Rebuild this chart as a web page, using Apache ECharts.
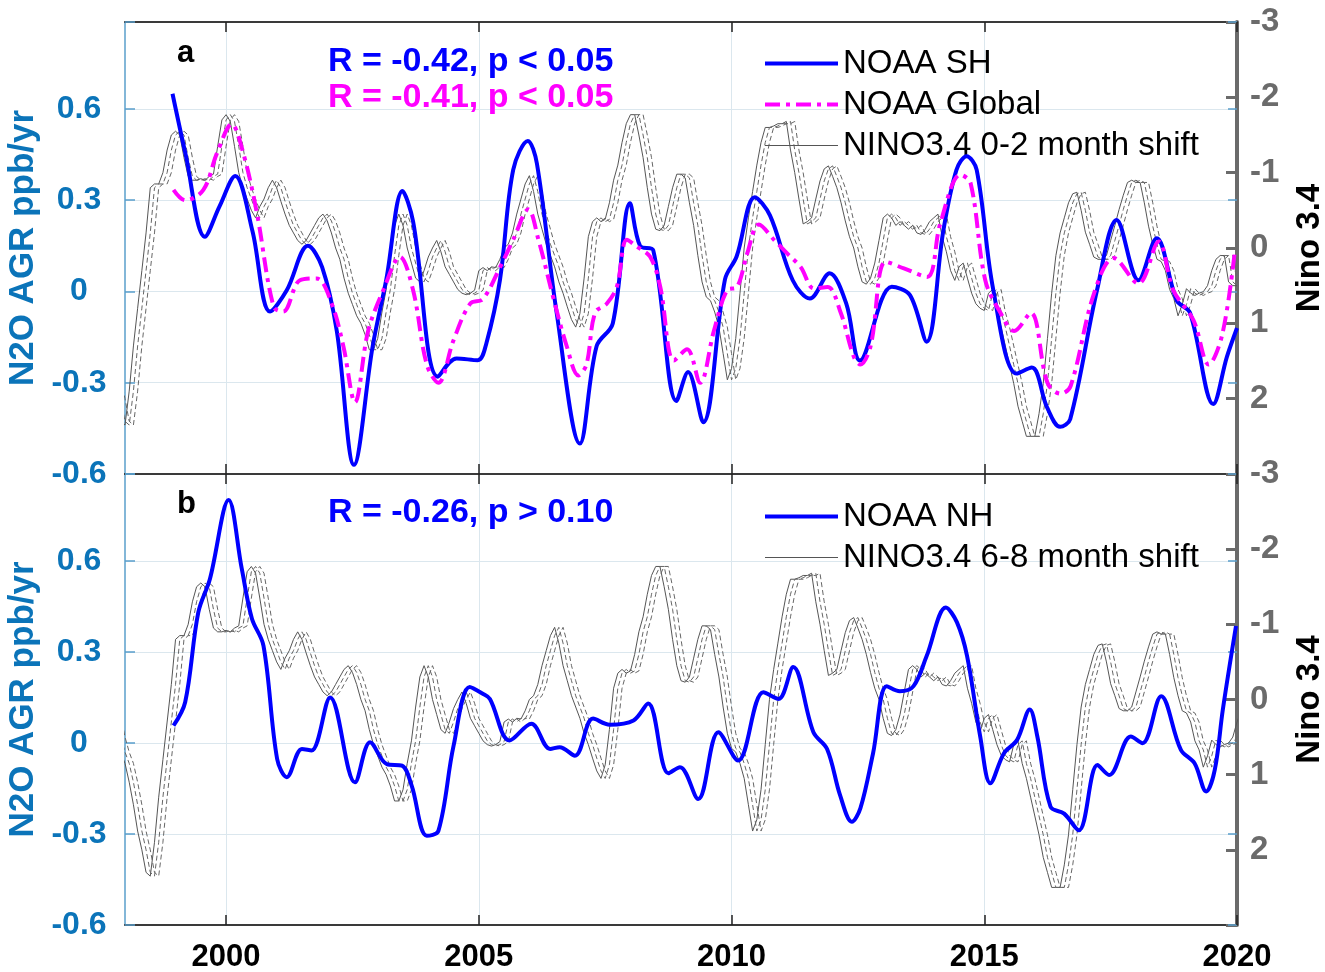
<!DOCTYPE html>
<html>
<head>
<meta charset="utf-8">
<script src="https://cdn.jsdelivr.net/npm/echarts@6/dist/echarts.min.js"></script>
<style>
html, body { margin: 0; padding: 0; background: #fff; }
#chart { width: 1325px; height: 972px; }
</style>
</head>
<body>
<div id="chart"></div>
<script>
// N2O growth rate, panel a (SH) and global
var shYears = [1998.94, 1999.2, 1999.58, 1999.87, 2000.18, 2000.52, 2000.87, 2001.2, 2001.62, 2001.9,
    2002.19, 2002.53, 2002.9, 2003.17, 2003.49, 2003.7, 2004.19, 2004.56, 2004.98, 2005.15,
    2005.42, 2005.68, 2005.97, 2006.15, 2006.54, 2007.0, 2007.33, 2007.65, 2007.99, 2008.19,
    2008.45, 2008.91, 2009.14, 2009.44, 2009.87, 2010.1, 2010.46, 2010.76, 2011.21, 2011.55,
    2011.94, 2012.27, 2012.54, 2013.17, 2013.53, 2013.86, 2014.19, 2014.45, 2014.65, 2014.85,
    2015.18, 2015.64, 2015.94, 2016.24, 2016.5, 2016.7, 2017.23, 2017.62, 2018.05, 2018.41,
    2018.81, 2019.07, 2019.53, 2019.8, 2020.0];
var shValues = [0.65, 0.45, 0.18, 0.28, 0.38, 0.20, -0.066, 0.004, 0.15, 0.08,
    -0.13, -0.57, -0.18, 0.04, 0.33, 0.23, -0.28, -0.22, -0.226, -0.17,
    0.04, 0.40, 0.495, 0.42, -0.07, -0.50, -0.18, -0.105, 0.29, 0.15,
    0.136, -0.36, -0.265, -0.43, 0.04, 0.115, 0.31, 0.25, 0.037, -0.023,
    0.06, -0.04, -0.227, 0.016, -0.012, -0.165, 0.20, 0.40, 0.445, 0.40,
    0.004, -0.27, -0.25, -0.38, -0.445, -0.42, 0.004, 0.235, 0.037, 0.175,
    -0.03, -0.07, -0.37, -0.215, -0.12];

var globYears = [1998.96, 1999.19, 1999.55, 1999.82, 2000.11, 2000.34, 2000.61, 2000.94, 2001.13, 2001.46,
    2001.79, 2002.09, 2002.32, 2002.55, 2002.81, 2003.11, 2003.44, 2003.7, 2003.97, 2004.2,
    2004.5, 2004.83, 2005.08, 2005.42, 2005.68, 2005.98, 2006.18, 2006.47, 2006.74, 2006.97,
    2007.13, 2007.3, 2007.53, 2007.73, 2007.93, 2008.13, 2008.39, 2008.59, 2008.86, 2009.12,
    2009.38, 2009.65, 2009.91, 2010.11, 2010.31, 2010.54, 2010.84, 2011.1, 2011.37, 2011.63,
    2011.9, 2012.16, 2012.42, 2012.55, 2012.75, 2013.05, 2013.41, 2013.87, 2014.13, 2014.53,
    2014.73, 2015.02, 2015.32, 2015.59, 2015.92, 2016.25, 2016.51, 2016.71, 2017.17, 2017.56,
    2018.05, 2018.45, 2018.74, 2019.14, 2019.44, 2019.71, 2019.96];
var globValues = [0.334, 0.30, 0.334, 0.455, 0.55, 0.455, 0.257, -0.05, -0.066, 0.037,
    0.043, -0.04, -0.18, -0.364, -0.13, 0.004, 0.114, 0.004, -0.24, -0.30,
    -0.16, -0.04, -0.025, 0.08, 0.17, 0.27, 0.17, -0.018, -0.18, -0.276,
    -0.24, -0.07, -0.04, 0.015, 0.17, 0.147, 0.114, 0.015, -0.227, -0.19,
    -0.30, -0.13, 0.004, 0.015, 0.125, 0.22, 0.17, 0.125, 0.08, 0.01,
    0.015, -0.07, -0.215, -0.24, -0.18, 0.098, 0.076, 0.048, 0.224, 0.384,
    0.356, 0.037, -0.07, -0.13, -0.07, -0.30, -0.336, -0.31, -0.007, 0.11,
    0.026, 0.164, 0.004, -0.095, -0.24, -0.14, 0.136];

// N2O growth rate, panel b (NH)
var nhYears = [1998.96, 1999.19, 1999.45, 1999.68, 2000.05, 2000.31, 2000.51, 2000.74, 2001.01, 2001.2,
    2001.5, 2001.69, 2002.06, 2002.55, 2002.85, 2003.18, 2003.48, 2003.67, 2003.97, 2004.2,
    2004.5, 2004.82, 2005.08, 2005.22, 2005.61, 2006.04, 2006.41, 2006.6, 2006.9, 2007.26,
    2007.59, 2008.06, 2008.35, 2008.75, 2008.98, 2009.34, 2009.74, 2010.13, 2010.63, 2010.93,
    2011.22, 2011.62, 2011.89, 2012.15, 2012.38, 2012.55, 2012.8, 2013.07, 2013.33, 2013.6,
    2013.86, 2014.24, 2014.46, 2014.66, 2014.92, 2015.12, 2015.39, 2015.65, 2015.9, 2016.05,
    2016.31, 2016.58, 2016.87, 2017.24, 2017.47, 2017.9, 2018.13, 2018.5, 2018.89, 2019.16,
    2019.39, 2019.56, 2019.72, 2019.98];
var nhValues = [0.057, 0.134, 0.43, 0.54, 0.80, 0.574, 0.41, 0.32, -0.053, -0.113,
    -0.02, -0.025, 0.15, -0.13, 0.002, -0.07, -0.075, -0.14, -0.306, -0.29,
    -0.01, 0.184, 0.162, 0.145, 0.008, 0.063, -0.02, -0.014, -0.042, 0.08,
    0.06, 0.074, 0.13, -0.10, -0.08, -0.185, 0.035, -0.058, 0.167, 0.145,
    0.25, 0.035, -0.02, -0.174, -0.26, -0.215, -0.034, 0.187, 0.17, 0.187,
    0.286, 0.446, 0.397, 0.286, 0.021, -0.133, -0.034, 0.01, 0.11, 0.021,
    -0.21, -0.233, -0.288, -0.073, -0.106, 0.021, -0.001, 0.154, -0.023, -0.067,
    -0.16, -0.089, 0.11, 0.385];

// NINO3.4 index, monthly from Jan 1997
var ninoStart = 1997;
var ninoMonthly = [
    -0.4, -0.3, -0.1, 0.2, 0.5, 0.7, 0.85, 1.1, 1.4, 1.75, 2.0, 2.3,
    2.35, 1.9, 1.3, 0.8, 0.3, -0.2, -0.8, -0.85, -0.85, -1.0, -1.3, -1.5,
    -1.55, -1.5, -1.2, -0.95, -0.9, -0.9, -0.92, -0.9, -0.95, -0.98, -1.35, -1.7,
    -1.77, -1.68, -1.35, -1.0, -0.8, -0.65, -0.5, -0.4, -0.55, -0.65, -0.8, -0.9,
    -0.8, -0.62, -0.45, -0.3, -0.2, -0.1, -0.05, -0.1, -0.2, -0.3, -0.4, -0.45,
    -0.36, -0.2, 0.0, 0.15, 0.4, 0.6, 0.75, 0.9, 1.0, 1.15, 1.35, 1.35,
    1.2, 0.85, 0.55, 0.1, -0.3, -0.45, -0.3, 0.0, 0.2, 0.4, 0.45, 0.3,
    0.12, 0.0, -0.1, 0.05, 0.25, 0.35, 0.45, 0.55, 0.6, 0.62, 0.6, 0.56,
    0.3, 0.26, 0.3, 0.25, 0.26, 0.15, 0.0, -0.05, -0.2, -0.45, -0.65, -0.85,
    -0.96, -0.75, -0.45, -0.25, -0.05, 0.1, 0.25, 0.45, 0.6, 0.78, 0.95, 1.05,
    0.87, 0.4, -0.15, -0.35, -0.4, -0.35, -0.38, -0.6, -0.9, -1.1, -1.4, -1.65,
    -1.77, -1.77, -1.5, -1.2, -0.8, -0.45, -0.25, -0.23, -0.3, -0.55, -0.8, -0.98,
    -0.98, -0.93, -0.6, -0.3, 0.1, 0.45, 0.65, 0.7, 0.85, 1.05, 1.4, 1.75,
    1.6, 1.2, 0.6, 0.0, -0.4, -0.75, -1.1, -1.4, -1.6, -1.6, -1.62, -1.65,
    -1.65, -1.68, -1.3, -1.0, -0.65, -0.32, -0.35, -0.4, -0.65, -0.89, -1.05, -1.09,
    -0.95, -0.8, -0.6, -0.36, -0.15, 0.0, 0.25, 0.45, 0.48, 0.4, 0.2, -0.1,
    -0.4, -0.45, -0.4, -0.3, -0.35, -0.3, -0.25, -0.3, -0.2, -0.18, -0.25, -0.35,
    -0.4, -0.45, -0.15, 0.05, 0.3, 0.43, 0.25, 0.2, 0.4, 0.6, 0.74, 0.8,
    0.83, 0.6, 0.55, 0.85, 1.05, 1.3, 1.55, 1.8, 2.1, 2.3, 2.5, 2.5,
    2.5, 2.2, 1.8, 1.2, 0.6, 0.1, -0.2, -0.4, -0.6, -0.72, -0.74, -0.5,
    -0.21, -0.05, 0.12, 0.15, 0.15, 0.1, -0.1, -0.3, -0.51, -0.7, -0.87, -0.9,
    -0.87, -0.87, -0.6, -0.29, -0.05, 0.15, 0.18, 0.3, 0.55, 0.67, 0.9, 0.75,
    0.54, 0.6, 0.63, 0.6, 0.58, 0.5, 0.3, 0.15, 0.1, 0.1, 0.45, 0.5,
    0.5
];
var shiftsA = [0, 1, 2];
var shiftsB = [6, 7, 8];

var yearTicks = [2000, 2005, 2010, 2015, 2020];
var FONT = '"Liberation Sans", Arial, Helvetica, sans-serif';
var BLUE_AX = '#0b74b9';
var GRAY_AX = '#6b6b6b';
var GRID_C = '#dbe7ee';

function pairs(xs, ys) {
    return xs.map(function (x, i) { return [x, ys[i]]; });
}
function ninoShifted(shift) {
    var out = [];
    ninoMonthly.forEach(function (v, i) {
        var x = ninoStart + (i + shift) / 12;
        if (x >= 1997.9 && x <= 2020.1) out.push([x, v]);
    });
    return out;
}

var chart = echarts.init(document.getElementById('chart'));

function xAxes(gridIndex, pos, labels) {
    return {
        type: 'value', gridIndex: gridIndex, position: pos,
        min: 1998, max: 2020,
        axisLine: { show: true, onZero: false, lineStyle: { color: '#3a3a3a', width: 2 } },
        axisTick: { show: true, inside: true, length: 10, customValues: yearTicks, lineStyle: { color: '#222', width: 1.5 } },
        axisLabel: {
            show: labels, customValues: yearTicks, margin: 17,
            color: '#000', fontSize: 31, fontWeight: 'bold', fontFamily: FONT,
            formatter: function (v) { return String(v); }
        },
        splitLine: { show: pos === 'bottom', lineStyle: { color: GRID_C, width: 1 } }
    };
}
function leftAxis(gridIndex) {
    return {
        type: 'value', gridIndex: gridIndex, position: 'left',
        min: -0.6, max: 0.886, interval: 0.3,
        name: 'N2O AGR ppb/yr', nameLocation: 'middle', nameGap: 82, nameRotate: 90,
        nameTextStyle: { color: BLUE_AX, fontSize: 35, fontWeight: 'bold', fontFamily: FONT },
        axisLine: { show: true, onZero: false, lineStyle: { color: '#5a9fcb', width: 1.5 } },
        axisTick: { show: true, inside: true, length: 10, lineStyle: { color: '#5a9fcb', width: 1.5 } },
        axisLabel: {
            margin: 46, align: 'center', color: BLUE_AX, fontSize: 32, fontWeight: 'bold', fontFamily: FONT,
            formatter: function (v) { return v > 0.7 ? '' : String(Math.round(v * 10) / 10); }
        },
        splitLine: { show: true, lineStyle: { color: GRID_C, width: 1 } }
    };
}
function mirrorAxis(gridIndex) {
    return {
        type: 'value', gridIndex: gridIndex, position: 'right',
        min: -0.6, max: 0.886, interval: 0.3,
        axisLine: { show: false },
        axisTick: { show: true, inside: true, length: 9, lineStyle: { color: '#5a9fcb', width: 1.5 } },
        axisLabel: { show: false },
        splitLine: { show: false }
    };
}
function ninoAxis(gridIndex) {
    return {
        type: 'value', gridIndex: gridIndex, position: 'right', inverse: true,
        min: -3, max: 3, interval: 1,
        name: 'Nino 3.4', nameLocation: 'middle', nameGap: 56, nameRotate: 90,
        nameTextStyle: { color: '#000', fontSize: 33, fontWeight: 'bold', fontFamily: FONT },
        axisLine: { show: true, onZero: false, lineStyle: { color: GRAY_AX, width: 4 } },
        axisTick: { show: true, inside: true, length: 11, lineStyle: { color: GRAY_AX, width: 3 } },
        axisLabel: {
            margin: 13, color: GRAY_AX, fontSize: 33, fontWeight: 'bold', fontFamily: FONT,
            formatter: function (v) { return v === 3 ? '' : String(v); }
        },
        splitLine: { show: false }
    };
}

function n2oLine(name, data, color, xi, yi, dash) {
    return {
        name: name, type: 'line', xAxisIndex: xi, yAxisIndex: yi,
        data: data, smooth: 0.35, symbol: 'none', showSymbol: false,
        lineStyle: { color: color, width: 4, type: dash || 'solid' },
        itemStyle: { color: color }, z: 5
    };
}
function ninoLine(name, shift, xi, yi, dashed) {
    var c = dashed ? '#666' : '#555';
    return {
        name: name, type: 'line', xAxisIndex: xi, yAxisIndex: yi,
        data: ninoShifted(shift), symbol: 'none', showSymbol: false,
        lineStyle: { color: c, width: 1, type: dashed ? [5, 3] : 'solid' },
        itemStyle: { color: c }, z: 2
    };
}

var series = [
    n2oLine('NOAA SH', pairs(shYears, shValues), '#0000ff', 0, 0),
    n2oLine('NOAA Global', pairs(globYears, globValues), '#ff00ff', 0, 0, [15, 6, 4, 6]),
    ninoLine('NINO3.4 0-2 month shift', shiftsA[0], 0, 1, false),
    ninoLine('NINO3.4 1 month', shiftsA[1], 0, 1, true),
    ninoLine('NINO3.4 2 month', shiftsA[2], 0, 1, true),
    n2oLine('NOAA NH', pairs(nhYears, nhValues), '#0000ff', 2, 3),
    ninoLine('NINO3.4 6-8 month shift', shiftsB[0], 2, 4, false),
    ninoLine('NINO3.4 7 month', shiftsB[1], 2, 4, true),
    ninoLine('NINO3.4 8 month', shiftsB[2], 2, 4, true)
];

function legendBox(names, top) {
    return {
        data: names, orient: 'vertical', left: 763, top: top, padding: 0,
        itemWidth: 73, itemHeight: 14, itemGap: 8, selectedMode: false,
        itemStyle: { opacity: 0 },
        lineStyle: { width: 'inherit' },
        textStyle: { color: '#000', fontSize: 33, fontFamily: FONT }
    };
}
function label(text, x, y, color, size) {
    return {
        type: 'text', x: x, y: y, z: 10,
        style: {
            text: text, fill: color, font: 'bold ' + size + 'px ' + FONT,
            verticalAlign: 'middle', textVerticalAlign: 'middle'
        }
    };
}

var option = {
    animation: false,
    backgroundColor: '#fff',
    grid: [
        { left: 125, top: 22, width: 1112, height: 452, outerBoundsMode: 'none', containLabel: false },
        { left: 125, top: 474, width: 1112, height: 451, outerBoundsMode: 'none', containLabel: false }
    ],
    xAxis: [xAxes(0, 'bottom', false), xAxes(0, 'top', false), xAxes(1, 'bottom', true), xAxes(1, 'top', false)],
    yAxis: [leftAxis(0), ninoAxis(0), mirrorAxis(0), leftAxis(1), ninoAxis(1), mirrorAxis(1)],
    legend: [
        legendBox(['NOAA SH', 'NOAA Global', 'NINO3.4 0-2 month shift'], 47),
        legendBox(['NOAA NH', 'NINO3.4 6-8 month shift'], 500)
    ],
    graphic: [
        label('a', 177, 53, '#000', 31),
        label('R = -0.42, p < 0.05', 328, 62, '#0000ff', 34),
        label('R = -0.41, p < 0.05', 328, 98, '#ff00ff', 34),
        label('b', 177, 504, '#000', 31),
        label('R = -0.26, p > 0.10', 328, 513, '#0000ff', 34)
    ],
    series: series
};
chart.setOption(option);
</script>
</body>
</html>
